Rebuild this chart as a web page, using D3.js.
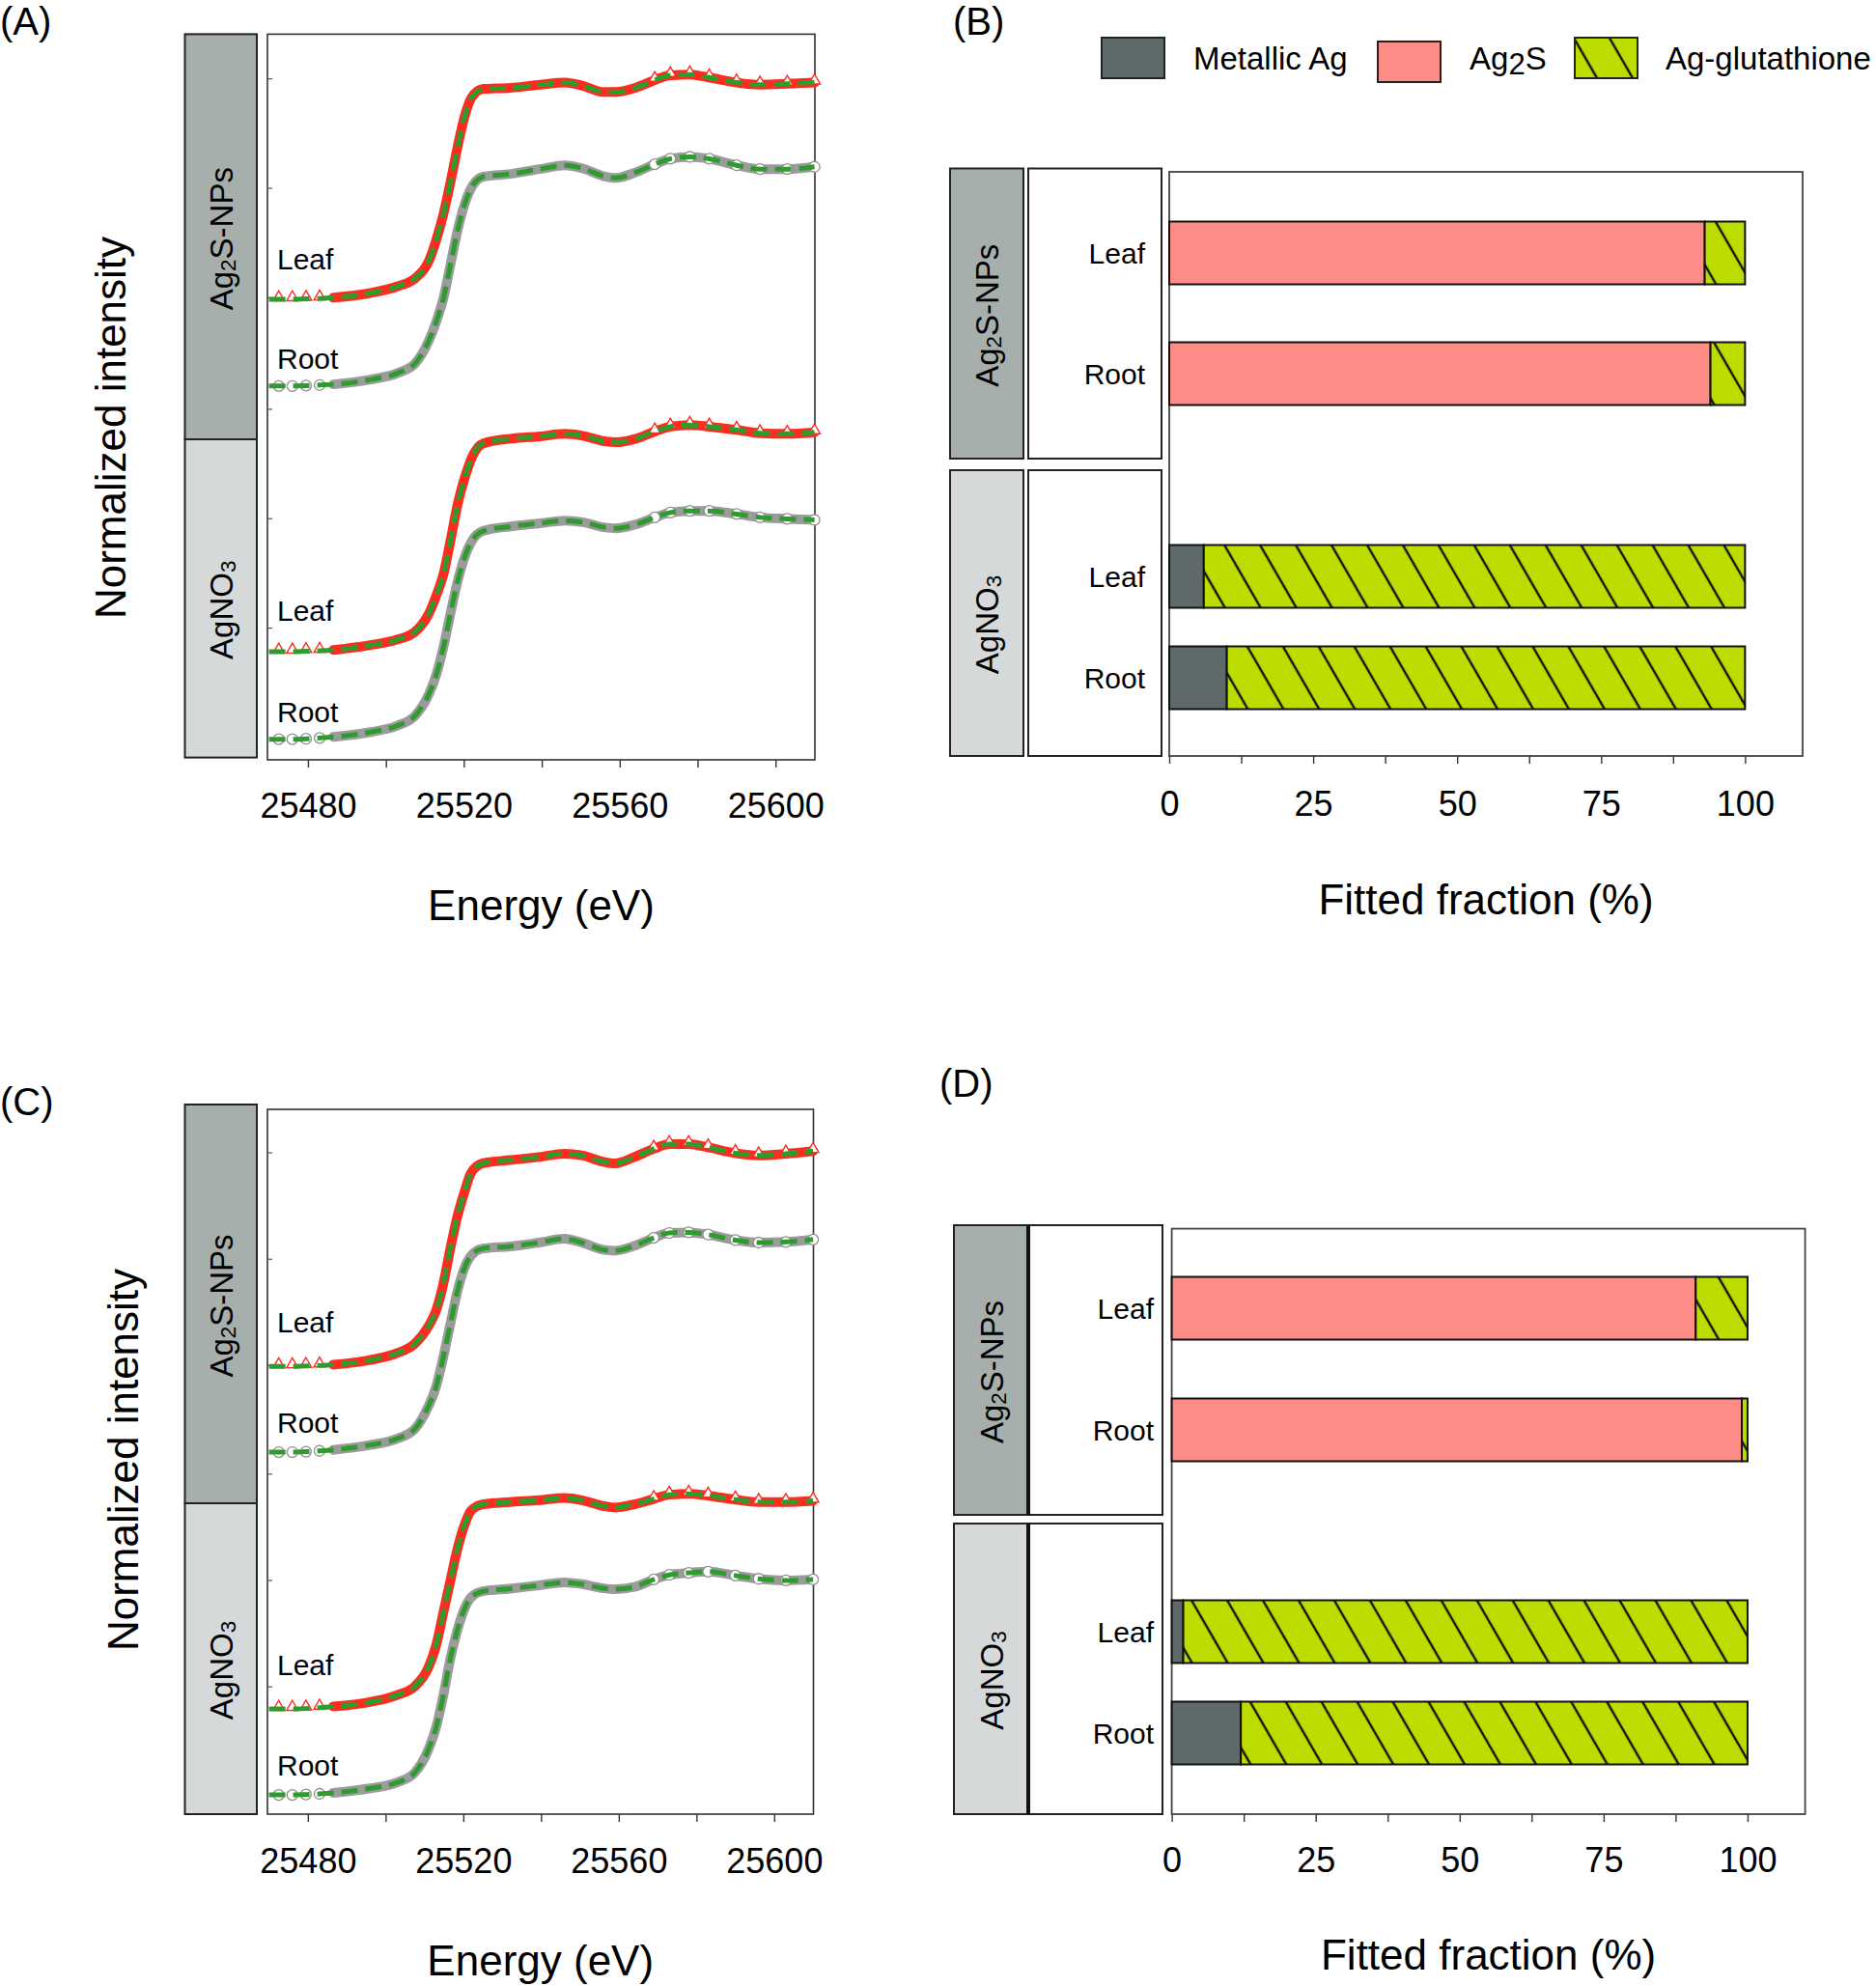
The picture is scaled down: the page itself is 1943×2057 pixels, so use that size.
<!DOCTYPE html>
<html><head><meta charset="utf-8">
<script src="https://cdn.jsdelivr.net/npm/d3@7"></script>
<style>
body{margin:0;background:#fff}
svg{display:block}
text{font-family:"Liberation Sans",Arial,Helvetica,sans-serif;fill:#000}
</style>
</head><body>
<svg id="c" width="1943" height="2057"></svg>
<script>
// ---------------- DATA ----------------
const energy = [25470, 25472.5, 25476, 25479.5, 25483, 25486.5, 25496, 25503, 25507.5, 25511, 25513,
  25514.8, 25516.6, 25518.4, 25520.3, 25522, 25525, 25532, 25539.5, 25546, 25550.5,
  25556, 25559, 25564, 25569, 25573, 25578, 25583, 25590, 25596, 25603, 25610];
const energyTicks = [25480, 25500, 25520, 25540, 25560, 25580, 25600];
const energyLabels = [25480, 25520, 25560, 25600];
const yMinorTicks = [0.53, 1.05, 1.57, 2.1, 2.62, 3.14];

// panel A spectra (normalized intensity)
const aLeafNP  = [0,0,0,0.002,0.004,0.008, 0.030,0.062,0.10,0.181,0.287, 0.408,0.559,0.725,0.876,0.959, 1.0,1.005,1.02,1.03,1.015, 0.985,0.985,1.005,1.042,1.065, 1.068,1.054,1.03,1.02,1.024,1.03];
const aRootNP  = [0,0,0,0.002,0.005,0.008, 0.031,0.062,0.108,0.215,0.31, 0.42,0.58,0.74,0.87,0.945, 0.995,1.008,1.031,1.049,1.034, 0.997,0.989,1.015,1.054,1.08, 1.089,1.08,1.049,1.031,1.031,1.042];
const aLeafNO3 = [0,0,0,0.002,0.004,0.008, 0.031,0.058,0.095,0.18,0.27, 0.37,0.53,0.70,0.83,0.92, 0.99,1.012,1.023,1.035,1.026, 1.0,0.995,1.011,1.046,1.069, 1.077,1.069,1.054,1.038,1.035,1.042];
const aRootNO3 = [0,0,0,0.002,0.006,0.011, 0.034,0.065,0.112,0.213,0.31, 0.44,0.60,0.75,0.87,0.94, 0.99,1.011,1.026,1.039,1.031, 1.007,1.002,1.02,1.054,1.077, 1.085,1.085,1.07,1.054,1.047,1.042];
const aOffsets = [2.09, 1.678, 0.416, 0];

// panel C spectra
const cLeafNP  = [0,0,0,0.002,0.004,0.008, 0.031,0.065,0.11,0.195,0.273, 0.398,0.57,0.727,0.852,0.945, 0.992,1.008,1.023,1.039,1.031, 1.0,0.992,1.023,1.063,1.086, 1.086,1.07,1.042,1.031,1.039,1.052];
const cRootNP  = [0,0,0,0.002,0.006,0.011, 0.035,0.066,0.113,0.223,0.32, 0.46,0.62,0.78,0.90,0.96, 0.995,1.005,1.024,1.043,1.024, 0.989,0.984,1.008,1.047,1.071, 1.074,1.063,1.036,1.024,1.027,1.039];
const cLeafNO3 = [0,0,0,0.002,0.006,0.012, 0.034,0.068,0.11,0.202,0.31, 0.465,0.62,0.775,0.899,0.969, 1.0,1.011,1.02,1.031,1.02, 0.992,0.984,1.0,1.026,1.047, 1.051,1.042,1.023,1.011,1.011,1.017];
const cRootNO3 = [0,0,0,0.002,0.005,0.01, 0.032,0.061,0.109,0.221,0.33, 0.48,0.66,0.80,0.91,0.965, 0.995,1.008,1.024,1.038,1.03, 1.01,1.005,1.016,1.053,1.075, 1.085,1.091,1.072,1.056,1.048,1.053];
const cOffsets = [2.094, 1.675, 0.42, 0];

const tissues = ["Leaf", "Root", "Leaf", "Root"];
const treatments = ["Ag2S-NPs", "AgNO3"];
const components = ["Metallic Ag", "Ag2S", "Ag-glutathione"];

// panel B fitted fractions (%)
const bMetallic = [0, 0, 6, 10];
const bAg2S     = [93, 94, 0, 0];
const bGlut     = [7, 6, 94, 90];
// panel D fitted fractions (%)
const dMetallic = [0, 0, 2, 12];
const dAg2S     = [91, 99, 0, 0];
const dGlut     = [9, 1, 98, 88];
const fracTicks = [0, 12.5, 25, 37.5, 50, 62.5, 75, 87.5, 100];
const fracLabels = [0, 25, 50, 75, 100];

// ---------------- STYLE ----------------
const colMetal = "#5e6a6a", colAg2S = "#fd8b86", colGlut = "#bddc00";
const colDark = "#a6afac", colLight = "#d5d9da";
const colRed = "#ff2b1f", colGray = "#9b9b9b", colFit = "#2f9b2f";

const svg = d3.select("#c");
const defs = svg.append("defs");
const pat = defs.append("pattern").attr("id","hatch").attr("patternUnits","userSpaceOnUse")
  .attr("width",32).attr("height",40).attr("patternTransform","rotate(-30)");
pat.append("rect").attr("width",32).attr("height",40).attr("fill",colGlut);
pat.append("line").attr("x1",16).attr("x2",16).attr("y1",-2).attr("y2",42).attr("stroke","#111").attr("stroke-width",2.4);

function txt(x, y, t, size, anchor){
  return svg.append("text").attr("x",x).attr("y",y).attr("font-size",size)
    .attr("dominant-baseline","central").attr("text-anchor",anchor||"start").text(t);
}

// vertical group label with subscript
function groupLabel(g, cx, cy, name, size){
  const t = g.append("text").attr("transform",`translate(${cx},${cy}) rotate(-90)`)
    .attr("text-anchor","middle").attr("dominant-baseline","central").attr("font-size",size);
  if (name === "Ag2S-NPs"){
    t.append("tspan").text("Ag");
    t.append("tspan").attr("font-size",size*0.68).attr("dy",size*0.22).text("2");
    t.append("tspan").attr("dy",-size*0.22).text("S-NPs");
  } else {
    t.append("tspan").text("AgNO");
    t.append("tspan").attr("font-size",size*0.68).attr("dy",size*0.22).text("3");
  }
}

function groupBars(g, x0, x1, y0, yMid, y1, withSplit){
  g.append("rect").attr("x",x0).attr("y",y0).attr("width",x1-x0).attr("height",yMid-y0)
    .attr("fill",colDark).attr("stroke","#222").attr("stroke-width",2);
  g.append("rect").attr("x",x0).attr("y",yMid).attr("width",x1-x0).attr("height",y1-yMid)
    .attr("fill",colLight).attr("stroke","#222").attr("stroke-width",2);
  groupLabel(g, (x0+x1)/2, (y0+yMid)/2 + 2, treatments[0], 33);
  groupLabel(g, (x0+x1)/2, (yMid+y1)/2 + 12, treatments[1], 33);
}

// ---------------- XANES PANELS ----------------
function drawXanes(cfg){
  const g = svg.append("g");
  const x = d3.scaleLinear().domain([25469.6, 25610.1]).range([cfg.left, cfg.right]);
  const y = d3.scaleLinear().domain(cfg.yDomain).range([cfg.bottom, cfg.top]);

  groupBars(g, 191.5, 266, cfg.gTop, cfg.gMid, cfg.gBottom);

  // frame
  g.append("rect").attr("x",cfg.left).attr("y",cfg.top).attr("width",cfg.right-cfg.left)
    .attr("height",cfg.bottom-cfg.top).attr("fill","none").attr("stroke","#333").attr("stroke-width",1.6);

  // x axis
  const ax = g.append("g").attr("transform",`translate(0,${cfg.bottom})`)
    .call(d3.axisBottom(x).tickValues(energyTicks).tickSize(8).tickSizeOuter(0)
      .tickFormat(d => energyLabels.includes(d) ? d : ""));
  ax.select(".domain").remove();
  ax.selectAll("line").attr("stroke","#333").attr("stroke-width",1.4);
  ax.selectAll("text").attr("font-size",36).attr("font-family",'"Liberation Sans",Arial,sans-serif')
    .attr("fill","#000").attr("y",null).attr("dy",null)
    .attr("transform",`translate(0,${cfg.tickLabelY - cfg.bottom})`).attr("dominant-baseline","central");

  // y minor ticks (inward)
  const ay = g.append("g").attr("transform",`translate(${cfg.left},0)`)
    .call(d3.axisRight(y).tickValues(yMinorTicks).tickSize(5).tickFormat(""));
  ay.select(".domain").remove();
  ay.selectAll("line").attr("stroke","#555").attr("stroke-width",1.2);

  const line = d3.line().curve(d3.curveMonotoneX);
  cfg.spectra.forEach((vals, i) => {
    const off = cfg.offsets[i];
    const isLeaf = tissues[i] === "Leaf";
    const col = isLeaf ? colRed : colGray;
    const pts = energy.map((e,k) => [x(e), y(vals[k] + off)]);
    // dense data band
    g.append("path").attr("d", line(pts.slice(5))).attr("fill","none").attr("stroke",col)
      .attr("stroke-width", isLeaf ? 10 : 10).attr("stroke-linejoin","round").attr("stroke-linecap","round");
    // sparse markers: pre-edge and tail
    const mk = pts.slice(1,5).concat(pts.slice(24));
    if (isLeaf){
      g.selectAll(null).data(mk).join("path")
        .attr("transform", d => `translate(${d[0]},${d[1]-2})`)
        .attr("d", d3.symbol(d3.symbolTriangle, 60)())
        .attr("fill", (d,k) => k < 4 ? "none" : "#fff").attr("stroke",colRed).attr("stroke-width",1.4);
    } else {
      g.selectAll(null).data(mk).join("circle")
        .attr("cx", d => d[0]).attr("cy", d => d[1]).attr("r",5.5)
        .attr("fill", (d,k) => k < 4 ? "none" : "#fff").attr("stroke","#8e8e8e").attr("stroke-width",1.3);
    }
    // fit
    g.append("path").attr("d", line(pts)).attr("fill","none").attr("stroke",colFit)
      .attr("stroke-width",5).attr("stroke-dasharray","17 8");
    // label
    g.append("text").attr("x", cfg.left + 10).attr("y", y(off) - (isLeaf ? cfg.leafLift : cfg.rootLift))
      .attr("font-size",30).attr("dominant-baseline","central").text(tissues[i]);
  });

  // titles
  txt((cfg.left+cfg.right)/2, cfg.titleY, "Energy (eV)", 44, "middle");
  svg.append("text").attr("transform",`translate(${cfg.yTitleX},${cfg.yTitleY}) rotate(-90)`)
    .attr("text-anchor","middle").attr("dominant-baseline","central").attr("font-size",44)
    .text("Normalized intensity");
}

drawXanes({left:277, right:844, top:35.4, bottom:787, yDomain:[-0.098, 3.35],
  gTop:35.4, gMid:455, gBottom:784.6,
  spectra:[aLeafNP, aRootNP, aLeafNO3, aRootNO3], offsets:aOffsets,
  leafLift:42, rootLift:28, tickLabelY:834, titleY:937, yTitleX:114, yTitleY:443});

drawXanes({left:277, right:842.5, top:1149, bottom:1879, yDomain:[-0.094, 3.35],
  gTop:1144, gMid:1557, gBottom:1879,
  spectra:[cLeafNP, cRootNP, cLeafNO3, cRootNO3], offsets:cOffsets,
  leafLift:46, rootLift:31, tickLabelY:1927, titleY:2030, yTitleX:127, yTitleY:1512});

// ---------------- FRACTION PANELS ----------------
function drawBars(cfg){
  const g = svg.append("g");
  const x = d3.scaleLinear().domain([0,110]).range([cfg.left, cfg.right]);
  const rows = tissues.map((t,i) => ({"Metallic Ag": cfg.metal[i], "Ag2S": cfg.ag2s[i], "Ag-glutathione": cfg.glut[i], idx:i}));
  const series = d3.stack().keys(components)(rows);
  const fills = {"Metallic Ag": colMetal, "Ag2S": colAg2S, "Ag-glutathione": "url(#hatch)"};
  const yc = d3.scaleOrdinal().domain([0,1,2,3]).range(cfg.rowY);
  const bh = 65;

  // group label boxes
  const gx0 = cfg.gx0, gx1 = cfg.gx1;
  [[cfg.g1Top, cfg.g1Bot, colDark, treatments[0]], [cfg.g2Top, cfg.g2Bot, colLight, treatments[1]]].forEach(([t,b,c,name]) => {
    g.append("rect").attr("x",gx0).attr("y",t).attr("width",gx1-gx0).attr("height",b-t)
      .attr("fill",c).attr("stroke","#222").attr("stroke-width",2);
    g.append("rect").attr("x",cfg.ix0).attr("y",t).attr("width",cfg.ix1-cfg.ix0).attr("height",b-t)
      .attr("fill","#fff").attr("stroke","#222").attr("stroke-width",2);
    if (cfg.thickEdge) g.append("line").attr("x1",gx1).attr("x2",gx1).attr("y1",t).attr("y2",b)
      .attr("stroke","#111").attr("stroke-width",4);
    groupLabel(g, (gx0+gx1)/2, (t+b)/2 + (name === "AgNO3" ? 12 : 2), name, 33);
  });

  // frame
  g.append("rect").attr("x",cfg.left).attr("y",cfg.top).attr("width",cfg.right-cfg.left)
    .attr("height",cfg.bottom-cfg.top).attr("fill","none").attr("stroke","#444").attr("stroke-width",1.8);

  // bars
  series.forEach(s => {
    g.selectAll(null).data(s.filter(d => d[1]-d[0] > 0)).join("rect")
      .attr("x", d => x(d[0])).attr("width", d => x(d[1]) - x(d[0]))
      .attr("y", d => yc(d.data.idx) - bh/2).attr("height", bh)
      .attr("fill", fills[s.key]).attr("stroke","#111").attr("stroke-width",2);
  });

  // row labels
  tissues.forEach((t,i) => {
    g.append("text").attr("x",cfg.labelX).attr("y",yc(i)).attr("text-anchor","end")
      .attr("dominant-baseline","central").attr("font-size",30).text(t);
  });

  // x axis
  const ax = g.append("g").attr("transform",`translate(0,${cfg.bottom})`)
    .call(d3.axisBottom(x).tickValues(fracTicks).tickSize(8).tickSizeOuter(0)
      .tickFormat(d => fracLabels.includes(d) ? d : ""));
  ax.select(".domain").remove();
  ax.selectAll("line").attr("stroke","#333").attr("stroke-width",1.4);
  ax.selectAll("text").attr("font-size",36).attr("font-family",'"Liberation Sans",Arial,sans-serif')
    .attr("fill","#000").attr("y",null).attr("dy",null)
    .attr("transform",`translate(0,${cfg.tickLabelY - cfg.bottom})`).attr("dominant-baseline","central");

  txt((cfg.left+cfg.right)/2, cfg.titleY, "Fitted fraction (%)", 44, "middle");
}

drawBars({left:1211, right:1867, top:178, bottom:783,
  gx0:984, gx1:1060, ix0:1065, ix1:1203, g1Top:174.5, g1Bot:475, g2Top:487, g2Bot:783,
  rowY:[262, 387, 597, 702], labelX:1186,
  metal:bMetallic, ag2s:bAg2S, glut:bGlut, tickLabelY:832, titleY:931});

drawBars({left:1213.6, right:1869.6, top:1272.6, bottom:1879,
  gx0:988, gx1:1065, ix0:1066, ix1:1204, g1Top:1269, g1Bot:1569, g2Top:1578, g2Bot:1879, thickEdge:true,
  rowY:[1355, 1481, 1690, 1795], labelX:1195,
  metal:dMetallic, ag2s:dAg2S, glut:dGlut, tickLabelY:1926, titleY:2024});

// ---------------- LEGEND ----------------
const legend = svg.append("g");
const legItems = [
  {name: components[0], fill: colMetal, x:1141, y:39, tx:1236},
  {name: components[1], fill: colAg2S, x:1427, y:43, tx:1522},
  {name: components[2], fill: "url(#hatch)", x:1631, y:39, tx:1725}
];
legItems.forEach(it => {
  legend.append("rect").attr("x",it.x).attr("y",it.y).attr("width",65).attr("height",42)
    .attr("fill",it.fill).attr("stroke","#222").attr("stroke-width",2);
  const t = legend.append("text").attr("x",it.tx).attr("y",60).attr("font-size",33).attr("dominant-baseline","central");
  if (it.name === "Ag2S"){
    t.append("tspan").text("Ag");
    t.append("tspan").attr("font-size",31).attr("dy",6).text("2");
    t.append("tspan").attr("dy",-6).text("S");
  } else t.text(it.name);
});

// ---------------- PANEL LETTERS ----------------
txt(0, 22, "(A)", 40);
txt(987, 22, "(B)", 40);
txt(0, 1141, "(C)", 40);
txt(973, 1122, "(D)", 40);
</script>
</body></html>
